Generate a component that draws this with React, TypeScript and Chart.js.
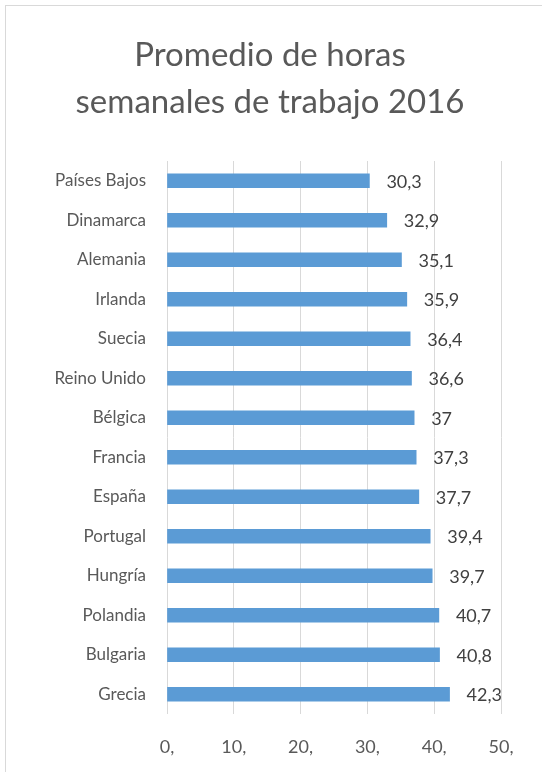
import React, { useEffect, useRef } from "react";
import { Chart, registerables } from "chart.js";

Chart.register(...registerables);

const titleLines = ["Promedio de horas", "semanales de trabajo 2016"];
const countries = [
  "Países Bajos",
  "Dinamarca",
  "Alemania",
  "Irlanda",
  "Suecia",
  "Reino Unido",
  "Bélgica",
  "Francia",
  "España",
  "Portugal",
  "Hungría",
  "Polandia",
  "Bulgaria",
  "Grecia",
];
const hours = [30.3, 32.9, 35.1, 35.9, 36.4, 36.6, 37, 37.3, 37.7, 39.4, 39.7, 40.7, 40.8, 42.3];
const xMin = 0;
const xMax = 50;
const xStep = 10;

const FONT = "Lato, 'Open Sans', sans-serif";

const fmt = (v: number) => String(v).replace(".", ",");

const titlePlugin = {
  id: "customTitle",
  afterDraw(chart: any) {
    const ctx = chart.ctx;
    ctx.save();
    ctx.fillStyle = "#595959";
    ctx.font = `33px ${FONT}`;
    ctx.textAlign = "center";
    ctx.textBaseline = "alphabetic";
    ctx.fillText(titleLines[0], 270, 66);
    ctx.fillText(titleLines[1], 270, 113);
    ctx.restore();
  },
};

const dataLabelPlugin = {
  id: "dataLabels",
  afterDatasetsDraw(chart: any) {
    const ctx = chart.ctx;
    const meta = chart.getDatasetMeta(0);
    ctx.save();
    ctx.fillStyle = "#404040";
    ctx.font = `18px ${FONT}`;
    ctx.textAlign = "left";
    ctx.textBaseline = "middle";
    meta.data.forEach((bar: any, i: number) => {
      ctx.fillText(fmt(hours[i]), bar.x + 17, bar.y + 1);
    });
    ctx.restore();
  },
};

export default function App() {
  const ref = useRef<HTMLCanvasElement | null>(null);

  useEffect(() => {
    if (!ref.current) return;
    const chart = new Chart(ref.current, {
      type: "bar",
      data: {
        labels: countries,
        datasets: [
          {
            data: hours,
            backgroundColor: "#5b9bd5",
            borderWidth: 0,
            barThickness: 14,
          },
        ],
      },
      options: {
        indexAxis: "y",
        animation: false,
        responsive: false,
        maintainAspectRatio: false,
        layout: { padding: { top: 161, right: 41, bottom: 0, left: 0 } },
        plugins: {
          legend: { display: false },
          title: { display: false },
          tooltip: { enabled: false },
        },
        scales: {
          x: {
            min: xMin,
            max: xMax,
            afterFit: (s: any) => {
              s.height = 58;
            },
            ticks: {
              stepSize: xStep,
              color: "#595959",
              font: { family: FONT, size: 18 },
              padding: 22,
              callback: (v: any) => `${v},`,
            },
            grid: { color: "#d9d9d9", lineWidth: 1, drawTicks: false },
            border: { display: false },
          },
          y: {
            afterFit: (s: any) => {
              s.width = 167;
            },
            ticks: {
              color: "#595959",
              font: { family: FONT, size: 17 },
              padding: 21,
            },
            grid: { display: false, drawTicks: false },
            border: { display: false },
          },
        },
      },
      plugins: [titlePlugin, dataLabelPlugin],
    });
    return () => chart.destroy();
  }, []);

  return (
    <div
      style={{
        position: "absolute",
        left: 0,
        top: 0,
        width: 542,
        height: 772,
        overflow: "hidden",
        background: "#ffffff",
      }}
    >
      <div
        style={{
          position: "absolute",
          left: 5,
          top: 5,
          width: 700,
          height: 900,
          border: "1px solid #d9d9d9",
          boxSizing: "border-box",
        }}
      />
      <canvas
        ref={ref}
        width={542}
        height={772}
        style={{ position: "absolute", left: 0, top: 0, width: 542, height: 772 }}
      />
    </div>
  );
}
